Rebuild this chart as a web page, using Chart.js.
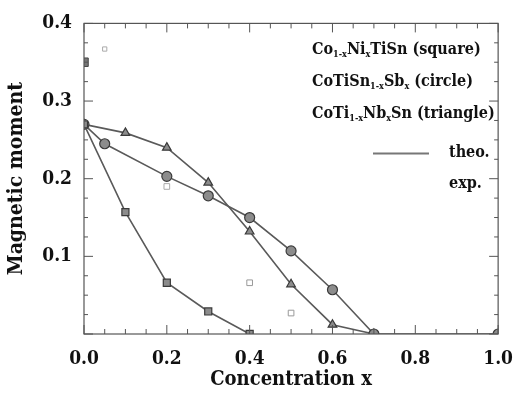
<!DOCTYPE html>
<html>
<head>
<meta charset="utf-8">
<script src="https://cdn.jsdelivr.net/npm/chart.js@4"></script>
<style>
  html, body { margin: 0; padding: 0; background: #fff; }
  #wrap { width: 527px; height: 396px; }
</style>
</head>
<body>
<div id="wrap"><canvas id="chart" width="527" height="396"></canvas></div>
<script>
// values
const squareX = [0.0, 0.1, 0.2, 0.3, 0.4];
const squareY = [0.27, 0.157, 0.066, 0.029, 0.0];
const circleX = [0.0, 0.05, 0.2, 0.3, 0.4, 0.5, 0.6, 0.7, 1.0];
const circleY = [0.27, 0.245, 0.203, 0.178, 0.15, 0.107, 0.057, 0.0, 0.0];
const triangleX = [0.0, 0.1, 0.2, 0.3, 0.4, 0.5, 0.6, 0.7];
const triangleY = [0.27, 0.259, 0.24, 0.195, 0.132, 0.064, 0.012, 0.0];
const expX = [0.0, 0.05, 0.2, 0.4, 0.5];
const expY = [0.35, 0.367, 0.19, 0.066, 0.027];
const xTicks = [0.0, 0.2, 0.4, 0.6, 0.8, 1.0];
const yTicks = [0.1, 0.2, 0.3, 0.4];

const serif = "'DejaVu Serif Condensed', 'DejaVu Serif', serif";

function pts(xs, ys) {
  return xs.map((x, i) => ({ x, y: ys[i] }));
}

function lineSet(label, xs, ys, style) {
  return {
    label,
    data: pts(xs, ys),
    showLine: true,
    borderColor: "#5a5a5a",
    borderWidth: 1.6,
    pointStyle: style,
    pointRadius: 5,
    pointBackgroundColor: "#8c8c8c",
    pointBorderColor: "#3a3a3a",
    pointBorderWidth: 1.2,
  };
}

// inward ticks on all four sides + legend text inside the frame
const framePlugin = {
  id: "frame",
  afterDraw(chart) {
    const { ctx, chartArea: a, scales } = chart;
    const xs = scales.x, ys = scales.y;
    ctx.save();
    ctx.strokeStyle = "#555";
    ctx.lineWidth = 1.2;
    ctx.strokeRect(a.left, a.top, a.right - a.left, a.bottom - a.top);
    ctx.lineWidth = 1;
    for (let i = 0; i <= 20; i++) {
      const v = i * 0.05;
      const px = xs.getPixelForValue(v);
      const len = i % 4 === 0 ? 9 : 5;
      ctx.beginPath();
      ctx.moveTo(px, a.bottom); ctx.lineTo(px, a.bottom - len);
      ctx.moveTo(px, a.top); ctx.lineTo(px, a.top + len);
      ctx.stroke();
    }
    for (let i = 0; i <= 16; i++) {
      const v = i * 0.025;
      const py = ys.getPixelForValue(v);
      const len = i % 4 === 0 ? 9 : 4;
      ctx.beginPath();
      ctx.moveTo(a.left, py); ctx.lineTo(a.left + len, py);
      ctx.moveTo(a.right, py); ctx.lineTo(a.right - len, py);
      ctx.stroke();
    }

    // legend block
    ctx.fillStyle = "#111";
    ctx.textBaseline = "alphabetic";
    const big = "bold 16px " + serif;
    const small = "bold 9px " + serif;
    const draw = (parts, x, y) => {
      let cx = x;
      parts.forEach(([t, sub]) => {
        ctx.font = sub ? small : big;
        ctx.fillText(t, cx, sub ? y + 3 : y);
        cx += ctx.measureText(t).width;
      });
    };
    const lx = a.left + 228;
    draw([["Co", 0], ["1-x", 1], ["Ni", 0], ["x", 1], ["TiSn (square)", 0]], lx, a.top + 31);
    draw([["CoTiSn", 0], ["1-x", 1], ["Sb", 0], ["x", 1], [" (circle)", 0]], lx, a.top + 63);
    draw([["CoTi", 0], ["1-x", 1], ["Nb", 0], ["x", 1], ["Sn (triangle)", 0]], lx, a.top + 95);
    ctx.font = big;
    ctx.fillText("theo.", a.left + 365, a.top + 134);
    ctx.fillText("exp.", a.left + 365, a.top + 165);
    ctx.strokeStyle = "#777";
    ctx.lineWidth = 2;
    ctx.beginPath();
    ctx.moveTo(a.left + 289, a.top + 130);
    ctx.lineTo(a.left + 345, a.top + 130);
    ctx.stroke();
    ctx.restore();
  },
};

new Chart(document.getElementById("chart"), {
  type: "scatter",
  data: {
    datasets: [
      lineSet("square", squareX, squareY, "rect"),
      lineSet("circle", circleX, circleY, "circle"),
      lineSet("triangle", triangleX, triangleY, "triangle"),
      {
        label: "exp",
        data: pts(expX, expY),
        showLine: false,
        pointStyle: "rect",
        pointRadius: [6, 3, 4, 4, 4],
        pointBackgroundColor: ["#777", "#fff", "#fff", "#fff", "#fff"],
        pointBorderColor: ["#444", "#aaa", "#aaa", "#999", "#999"],
        pointBorderWidth: 1,
      },
    ],
  },
  options: {
    responsive: false,
    animation: false,
    layout: { padding: { top: 22, right: 19, left: 0, bottom: 0 } },
    plugins: { legend: { display: false }, tooltip: { enabled: false } },
    scales: {
      x: {
        type: "linear",
        min: 0,
        max: 1.0,
        afterBuildTicks: (s) => { s.ticks = xTicks.map((v) => ({ value: v })); },
        afterFit: (s) => { s.height = 62; },
        grid: { display: false, drawTicks: false },
        border: { display: false },
        ticks: {
          padding: 14,
          color: "#111",
          font: { family: serif, size: 19, weight: "bold" },
          callback: (v) => v.toFixed(1),
        },
        title: {
          display: true,
          text: "Concentration x",
          color: "#111",
          font: { family: serif, size: 20, weight: "bold" },
          padding: { top: 0 },
        },
      },
      y: {
        type: "linear",
        min: 0,
        max: 0.4,
        afterBuildTicks: (s) => { s.ticks = yTicks.map((v) => ({ value: v })); },
        afterFit: (s) => { s.width = 84; },
        grid: { display: false, drawTicks: false },
        border: { display: false },
        ticks: {
          padding: 12,
          color: "#111",
          font: { family: serif, size: 19, weight: "bold" },
          callback: (v) => v.toFixed(1),
        },
        title: {
          display: true,
          text: "Magnetic moment",
          color: "#111",
          font: { family: serif, size: 21, weight: "bold" },
          padding: { bottom: 2 },
        },
      },
    },
  },
  plugins: [framePlugin],
});
</script>
</body>
</html>
